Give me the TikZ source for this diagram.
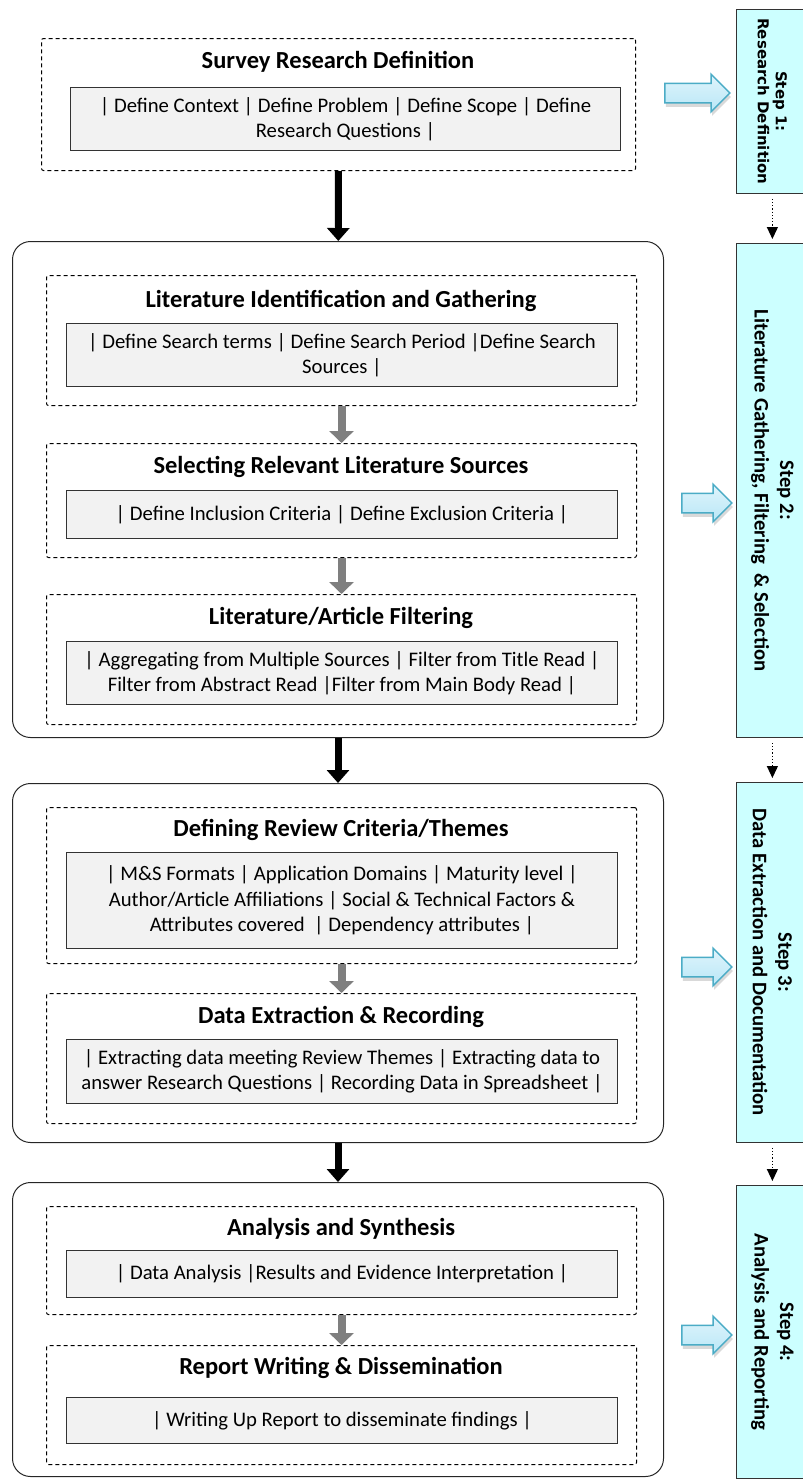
\documentclass[tikz,border=0pt]{standalone}
\usepackage{fontspec}
\setmainfont{Carlito}
\newfontfamily\stepOneFont{DejaVu Sans}
\usetikzlibrary{arrows.meta,shapes.arrows,shadows,positioning}
\definecolor{stepcyan}{HTML}{CCFFFF}
\definecolor{panelgray}{HTML}{F2F2F2}
\definecolor{pointerfill}{HTML}{B9E7F7}
\definecolor{pointeredge}{HTML}{4BACC6}
\definecolor{linkgray}{HTML}{7F7F7F}
\newcommand{\bodySize}[0]{\fontsize{20.7}{25.5}\selectfont}
\newcommand{\headSize}[0]{\fontsize{24.5}{28}\selectfont}

\begin{document}
\begin{tikzpicture}[x=1pt, y=-1pt]
  \tikzset{phase/.style={draw=black!85, line width=1pt, rounded corners=18pt, anchor=north west, inner sep=0pt},
    stage/.style={draw, line width=1pt, dash pattern=on 4pt off 3pt, rounded corners=2pt, anchor=north west, inner sep=0pt},
    heading/.style={font=\headSize\bfseries, inner sep=0pt},
    items/.style={draw=black!80, fill=panelgray, line width=1pt, font=\bodySize, align=center, anchor=north west, inner sep=0pt},
    stepbox/.style={draw=black!80, fill=stepcyan, line width=0.8pt, anchor=north west, minimum width=72pt, inner sep=0pt},
    steplabel/.style={rotate=-90, align=center, font=\bodySize\bfseries, inner sep=0pt},
    pointer/.style={single arrow, single arrow head extend=9pt, inner xsep=0pt, inner ysep=9pt,
      draw=pointeredge, line width=1.5pt, top color=pointerfill!45!white, bottom color=pointerfill,
      drop shadow={shadow xshift=1pt, shadow yshift=-4pt, opacity=0.3}},
    mainlink/.style={-{Triangle[width=22pt,length=13pt]}, line width=7pt},
    sublink/.style={-{Triangle[width=24pt,length=12pt]}, line width=8pt, linkgray},
    steplink/.style={-{Triangle[width=11pt,length=12pt]}, dotted, line width=1.2pt, shorten <=5pt, shorten >=4pt}}
  \useasboundingbox (0,0) rectangle (803,1481);
  \clip (0,0) rectangle (803,1481);

  % step 1
  \node[stage, minimum width=594pt, minimum height=132pt] (define) at (41,38) {};
  \node[heading] (defineHead) at (338,62) {Survey Research Definition};
  \node[items, minimum width=550pt, minimum height=63pt] (defineItems) at (70,87)
    {| Define Context | Define Problem | Define Scope | Define\\Research Questions |};

  % step 2
  \node[phase, minimum width=651pt, minimum height=496pt] (gather) at (12,241) {};
  \node[stage, minimum width=590pt, minimum height=130pt] (identify) at (46,275) {};
  \node[heading] (identifyHead) at (341,301) {Literature Identification and Gathering};
  \node[items, minimum width=551pt, minimum height=63pt] (identifyItems) at (66,323)
    {| Define Search terms | Define Search Period |Define Search\\Sources |};
  \node[stage, minimum width=590pt, minimum height=114pt] (select) at (46,443) {};
  \node[heading] (selectHead) at (341,467) {Selecting Relevant Literature Sources};
  \node[items, minimum width=551pt, minimum height=48pt] (selectItems) at (66,490)
    {| Define Inclusion Criteria | Define Exclusion Criteria |};
  \node[stage, minimum width=590pt, minimum height=130pt] (filter) at (46,594) {};
  \node[heading] (filterHead) at (341,618) {Literature/Article Filtering};
  \node[items, minimum width=551pt, minimum height=63pt] (filterItems) at (66,641)
    {| Aggregating from Multiple Sources | Filter from Title Read |\\Filter from Abstract Read |Filter from Main Body Read |};

  % step 3
  \node[phase, minimum width=651pt, minimum height=359pt] (extract) at (12,783) {};
  \node[stage, minimum width=590pt, minimum height=156pt] (criteria) at (46,807) {};
  \node[heading] (criteriaHead) at (341,830) {Defining Review Criteria/Themes};
  \node[items, minimum width=551pt, minimum height=96pt] (criteriaItems) at (66,852)
    {| M\&S Formats | Application Domains | Maturity level |\\Author/Article Affiliations | Social \& Technical Factors \&\\Attributes covered\ \ | Dependency attributes |};
  \node[stage, minimum width=590pt, minimum height=130pt] (record) at (46,993) {};
  \node[heading] (recordHead) at (341,1017) {Data Extraction \& Recording};
  \node[items, minimum width=551pt, minimum height=64pt] (recordItems) at (66,1039)
    {| Extracting data meeting Review Themes | Extracting data to\\answer Research Questions | Recording Data in Spreadsheet |};

  % step 4
  \node[phase, minimum width=651pt, minimum height=294pt] (report) at (12,1182) {};
  \node[stage, minimum width=590pt, minimum height=108pt] (analyse) at (46,1206) {};
  \node[heading] (analyseHead) at (341,1229) {Analysis and Synthesis};
  \node[items, minimum width=551pt, minimum height=47pt] (analyseItems) at (66,1250)
    {| Data Analysis |Results and Evidence Interpretation |};
  \node[stage, minimum width=590pt, minimum height=119pt] (write) at (46,1345) {};
  \node[heading] (writeHead) at (341,1368) {Report Writing \& Dissemination};
  \node[items, minimum width=551pt, minimum height=46pt] (writeItems) at (66,1397)
    {| Writing Up Report to disseminate findings |};

  % flow
  \draw[mainlink] (define) -- (gather);
  \draw[mainlink] (gather) -- (extract);
  \draw[mainlink] (extract) -- (report);
  \draw[sublink] (identify) -- (select);
  \draw[sublink] (select) -- (filter);
  \draw[sublink] (criteria) -- (record);
  \draw[sublink] (analyse) -- (write);

  % steps column
  \node[stepbox, minimum height=184pt] (step1) at (736,9) {};
  \node[steplabel, font=\stepOneFont\fontsize{15}{18}\selectfont\bfseries] at (step1) {Step 1:\\Research Definition};
  \node[stepbox, minimum height=494pt] (step2) at (736,243) {};
  \node[steplabel] at (step2) {Step 2:\\Literature Gathering, Filtering\ \ \& Selection};
  \node[stepbox, minimum height=360pt] (step3) at (736,782) {};
  \node[steplabel] at (step3) {Step 3:\\Data Extraction and Documentation};
  \node[stepbox, minimum height=293pt] (step4) at (736,1185) {};
  \node[steplabel] at (step4) {Step 4:\\Analysis and Reporting};
  \draw[steplink] (step1) -- (step2);
  \draw[steplink] (step2) -- (step3);
  \draw[steplink] (step3) -- (step4);

  \node[pointer, minimum height=65pt] (point1) at (692.5,93) {};
  \node[pointer, minimum height=50pt] (point2) at (702,503) {};
  \node[pointer, minimum height=50pt] (point3) at (702,967) {};
  \node[pointer, minimum height=50pt] (point4) at (702,1335) {};
\end{tikzpicture}
\end{document}
